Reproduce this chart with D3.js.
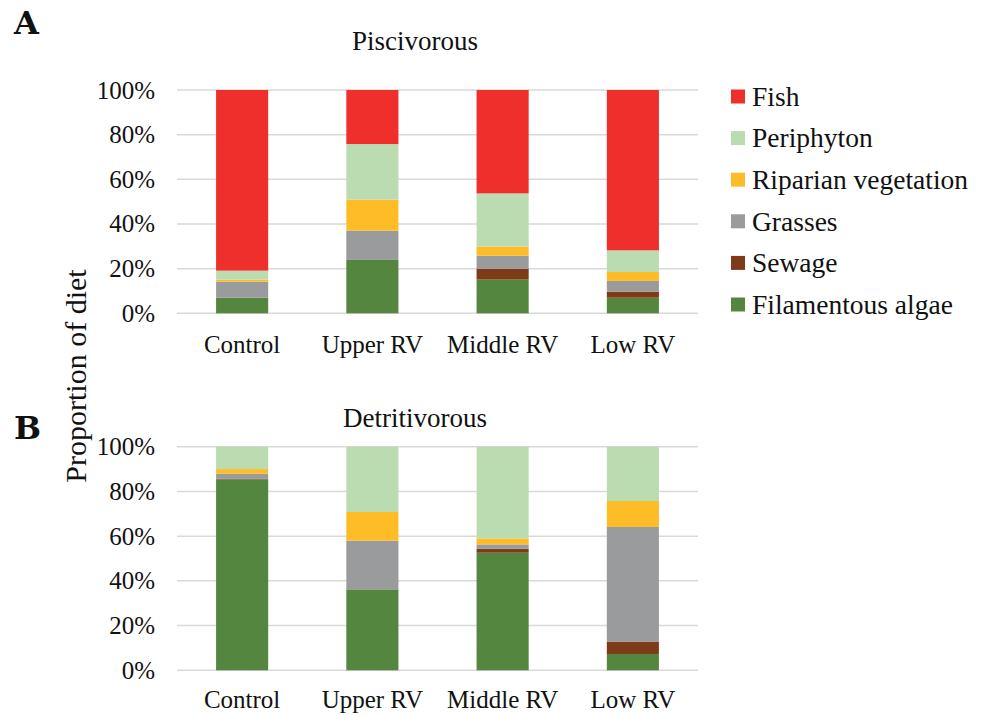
<!DOCTYPE html>
<html>
<head>
<meta charset="utf-8">
<script src="https://cdn.jsdelivr.net/npm/d3@7"></script>
<style>
  body { margin: 0; background: #fff; }
  svg text { font-family: "Liberation Serif", serif; fill: #111; }
</style>
</head>
<body>
<div id="viz"></div>
<script>
// categories and series
const sites = ["Control", "Upper RV", "Middle RV", "Low RV"]
const sources = ["Filamentous algae", "Sewage", "Grasses", "Riparian vegetation", "Periphyton", "Fish"]
const colors = ["#548640", "#7e3b18", "#999b9c", "#febc26", "#bbdcb1", "#ee2f2c"]
const yTicks = [0, 20, 40, 60, 80, 100]

// panel A, piscivorous (% of diet)
const piscAlgae      = [7.0, 23.9, 15.1, 7.0]
const piscSewage     = [0.0, 0.0, 4.9, 2.7]
const piscGrasses    = [7.2, 13.1, 5.8, 4.8]
const piscRiparian   = [0.9, 13.9, 4.1, 4.0]
const piscPeriphyton = [4.0, 24.9, 23.8, 9.7]
const piscFish       = [80.9, 24.2, 46.3, 71.8]

// panel B, detritivorous (% of diet)
const detrAlgae      = [85.4, 36.2, 52.6, 7.3]
const detrSewage     = [0.2, 0.0, 1.8, 5.4]
const detrGrasses    = [2.3, 21.8, 1.9, 51.4]
const detrRiparian   = [2.1, 12.8, 2.7, 11.6]
const detrPeriphyton = [10.0, 29.2, 41.0, 24.3]
const detrFish       = [0.0, 0.0, 0.0, 0.0]

const width = 984
const height = 715

const svg = d3.select("#viz").append("svg")
  .attr("width", width)
  .attr("height", height)

const x = d3.scaleBand()
  .domain(sites)
  .range([177, 698])
  .paddingInner(0.6)
  .paddingOuter(0.3)

const color = d3.scaleOrdinal().domain(sources).range(colors)

function toRows(series) {
  return sites.map((s, i) => {
    const row = { site: s }
    sources.forEach((k, j) => { row[k] = series[j][i] })
    return row
  })
}

function panel(series, y0, y1, title, titleY, labelY) {
  const y = d3.scaleLinear().domain([0, 100]).range([y0, y1])
  const g = svg.append("g")

  // gridlines
  g.selectAll("line.grid")
    .data(yTicks)
    .join("line")
    .attr("x1", x.range()[0])
    .attr("x2", x.range()[1])
    .attr("y1", d => y(d))
    .attr("y2", d => y(d))
    .attr("stroke", "#d9d9d9")
    .attr("stroke-width", 1.5)

  // y tick labels
  g.selectAll("text.tick")
    .data(yTicks)
    .join("text")
    .attr("x", 155)
    .attr("y", d => y(d))
    .attr("dy", "0.34em")
    .attr("text-anchor", "end")
    .attr("font-size", 25)
    .text(d => d + "%")

  const stacked = d3.stack().keys(sources)(toRows(series))

  g.selectAll("g.layer")
    .data(stacked)
    .join("g")
    .attr("fill", d => color(d.key))
    .selectAll("rect")
    .data(d => d)
    .join("rect")
    .attr("x", d => x(d.data.site))
    .attr("width", x.bandwidth())
    .attr("y", d => y(d[1]))
    .attr("height", d => y(d[0]) - y(d[1]))

  // category labels
  g.selectAll("text.cat")
    .data(sites)
    .join("text")
    .attr("x", d => x(d) + x.bandwidth() / 2)
    .attr("y", labelY)
    .attr("text-anchor", "middle")
    .attr("font-size", 25)
    .text(d => d)

  g.append("text")
    .attr("x", 415)
    .attr("y", titleY)
    .attr("text-anchor", "middle")
    .attr("font-size", 27)
    .text(title)
}

panel([piscAlgae, piscSewage, piscGrasses, piscRiparian, piscPeriphyton, piscFish],
  313.3, 90, "Piscivorous", 50, 353)

panel([detrAlgae, detrSewage, detrGrasses, detrRiparian, detrPeriphyton, detrFish],
  670.3, 446.7, "Detritivorous", 427, 708)

// y axis title
svg.append("text")
  .attr("x", 0)
  .attr("y", 0)
  .attr("transform", "translate(86,376) rotate(-90)")
  .attr("text-anchor", "middle")
  .attr("font-size", 30)
  .text("Proportion of diet")

// legend, top to bottom: Fish first
const legendItems = sources.slice().reverse()
const legendY = d3.scalePoint()
  .domain(legendItems)
  .range([96.5, 96.5 + 5 * 41.6])

svg.selectAll("rect.legend")
  .data(legendItems)
  .join("rect")
  .attr("x", 731)
  .attr("y", d => legendY(d) - 7)
  .attr("width", 14)
  .attr("height", 14)
  .attr("fill", d => color(d))

svg.selectAll("text.legend")
  .data(legendItems)
  .join("text")
  .attr("x", 752)
  .attr("y", d => legendY(d))
  .attr("dy", "0.34em")
  .attr("font-size", 27.5)
  .text(d => d)

// panel letters
svg.append("text")
  .attr("x", 14).attr("y", 34)
  .style("font-family", "'DejaVu Serif', serif")
  .attr("font-weight", "bold")
  .attr("font-size", 32)
  .text("A")

svg.append("text")
  .attr("x", 14).attr("y", 439)
  .style("font-family", "'DejaVu Serif', serif")
  .attr("font-weight", "bold")
  .attr("font-size", 32)
  .text("B")
</script>
</body>
</html>
